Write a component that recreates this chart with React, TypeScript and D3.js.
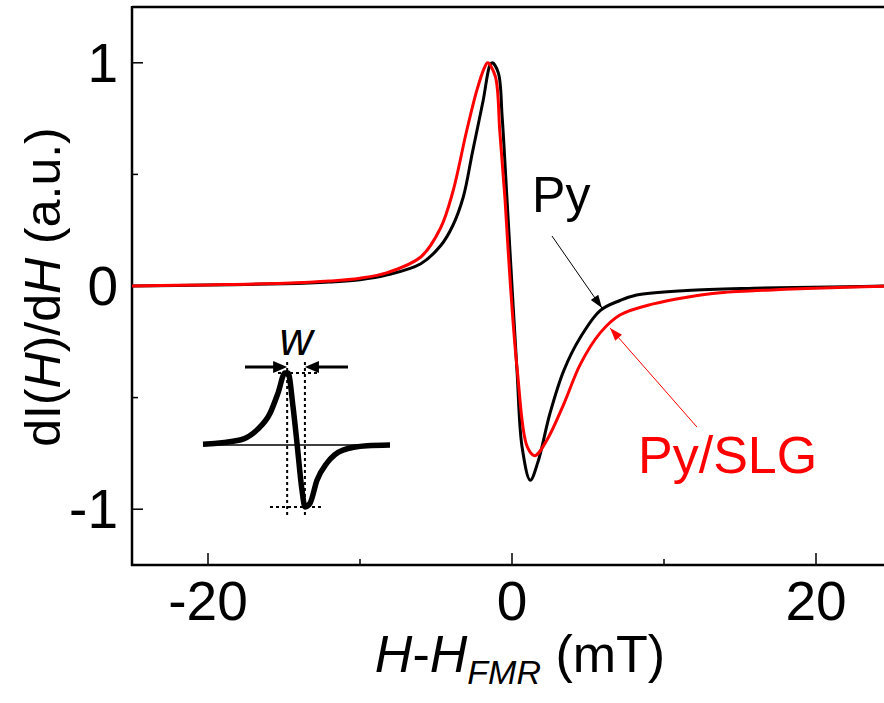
import React from "react";
import * as d3 from "d3";

// Py (black) curve: field offset (mT) and normalized derivative signal
const pyX = [-25, -20, -15, -12, -10, -8.2, -6, -4.7, -3.9, -3.2, -2.6, -1.9, -1.45, -1.3, -0.9, -0.65, -0.33, 0.0, 0.33, 0.66, 1.2, 1.7, 2.5, 3.4, 4.5, 5.8, 7.1, 8.2, 11.5, 15.9, 22, 25];
const pyY = [0, 0.004, 0.01, 0.018, 0.028, 0.05, 0.10, 0.18, 0.27, 0.40, 0.60, 0.83, 0.99, 1.0, 0.955, 0.76, 0.39, 0.0, -0.38, -0.72, -0.87, -0.79, -0.57, -0.38, -0.23, -0.11, -0.065, -0.04, -0.02, -0.01, -0.003, 0];

// Py/SLG (red) curve
const slgX = [-25, -20, -15, -12, -10, -8.2, -6, -4.7, -3.9, -3.0, -2.3, -1.8, -1.6, -1.1, -0.8, -0.46, -0.1, 0.35, 1.0, 1.5, 2.3, 3.4, 4.5, 5.8, 7.1, 9.3, 11.5, 13.7, 18, 22, 25];
const slgY = [0, 0.005, 0.012, 0.022, 0.035, 0.06, 0.13, 0.26, 0.42, 0.69, 0.88, 0.98, 1.0, 0.94, 0.69, 0.39, 0.0, -0.38, -0.72, -0.76, -0.69, -0.53, -0.35, -0.21, -0.13, -0.08, -0.05, -0.03, -0.015, -0.006, 0];

// Inset schematic curve (arbitrary units)
const insetX = [-10, -6.04, -4.22, -2.83, -1.98, -1.23, -0.91, -0.37, 0.05, 0.59, 0.91, 1.44, 2.19, 3.26, 4.97, 7.54, 10];
const insetY = [0.01, 0.07, 0.21, 0.44, 0.72, 1.0, 1.0, 0.53, 0.03, -0.63, -0.86, -0.81, -0.49, -0.25, -0.07, -0.01, 0];

const xMajorTicks = [-20, 0, 20];
const xMinorTicks = [-10, 10];
const yMajorTicks = [-1, 0, 1];
const yMinorTicks = [-0.5, 0.5];
const xTickLabels = ["-20", "0", "20"];
const yTickLabels = ["-1", "0", "1"];

const FONT = "'Liberation Sans', Arial, Helvetica, sans-serif";

export default function App() {
  const left = 132, top = 7, bottom = 565;
  const x = d3.scaleLinear().domain([-25, 25]).range([132, 892]);
  const y = d3.scaleLinear().domain([-1.25, 1.25]).range([bottom, top]);

  const line = d3
    .line<[number, number]>()
    .x((d) => x(d[0]))
    .y((d) => y(d[1]))
    .curve(d3.curveCatmullRom.alpha(0.5));

  const pyPts = pyX.map((v, i) => [v, pyY[i]] as [number, number]);
  const slgPts = slgX.map((v, i) => [v, slgY[i]] as [number, number]);

  // inset scales
  const ix = d3.scaleLinear().domain([-10, 10]).range([203, 390]);
  const iy = d3.scaleLinear().domain([0, 1]).range([445, 373]);
  const iline = d3
    .line<[number, number]>()
    .x((d) => ix(d[0]))
    .y((d) => iy(d[1]))
    .curve(d3.curveMonotoneX);
  const insetPts = insetX.map((v, i) => [v, insetY[i]] as [number, number]);

  const arrowHead = (x1: number, y1: number, x2: number, y2: number, len: number, w: number) => {
    const a = Math.atan2(y2 - y1, x2 - x1);
    const bx = x2 - len * Math.cos(a);
    const by = y2 - len * Math.sin(a);
    const px = -Math.sin(a) * w / 2;
    const py = Math.cos(a) * w / 2;
    return `${x2},${y2} ${bx + px},${by + py} ${bx - px},${by - py}`;
  };

  // annotation arrows in data coordinates
  const bA = { x1: x(2.63), y1: y(0.224), x2: x(5.92), y2: y(-0.099) };
  const rA = { x1: x(12.17), y1: y(-0.632), x2: x(6.45), y2: y(-0.188) };

  // inset arrows
  const wy = 367;
  const pkX = ix(-1.0);
  const mnX = ix(0.9);

  return (
    <svg width={884} height={703} style={{ position: "absolute", left: 0, top: 0, background: "#fff" }} fontFamily={FONT}>
      <rect x={0} y={0} width={884} height={703} fill="#fff" />
      {/* frame */}
      <line x1={left} y1={top} x2={892} y2={top} stroke="#000" strokeWidth={2.5} />
      <line x1={left} y1={top - 1} x2={left} y2={bottom + 1} stroke="#000" strokeWidth={2.5} />
      <line x1={left - 1} y1={bottom} x2={892} y2={bottom} stroke="#000" strokeWidth={2.5} />

      {/* x ticks */}
      {xMajorTicks.map((t, i) => (
        <g key={"xt" + t}>
          <line x1={x(t)} x2={x(t)} y1={bottom} y2={bottom - 12} stroke="#000" strokeWidth={1.5} />
          <text x={x(t)} y={620} fontSize={55} textAnchor="middle" fill="#000">{xTickLabels[i]}</text>
        </g>
      ))}
      {xMinorTicks.map((t) => (
        <line key={"xm" + t} x1={x(t)} x2={x(t)} y1={bottom} y2={bottom - 6} stroke="#000" strokeWidth={1.5} />
      ))}
      {/* y ticks */}
      {yMajorTicks.map((t, i) => (
        <g key={"yt" + t}>
          <line x1={left} x2={left + 11} y1={y(t)} y2={y(t)} stroke="#000" strokeWidth={1.5} />
          <text x={118} y={y(t) + 19} fontSize={55} textAnchor="end" fill="#000">{yTickLabels[i]}</text>
        </g>
      ))}
      {yMinorTicks.map((t) => (
        <line key={"ym" + t} x1={left} x2={left + 6} y1={y(t)} y2={y(t)} stroke="#000" strokeWidth={1.5} />
      ))}

      {/* curves */}
      <path d={line(pyPts) || ""} fill="none" stroke="#000" strokeWidth={3} strokeLinejoin="round" />
      <path d={line(slgPts) || ""} fill="none" stroke="#ff0000" strokeWidth={3} strokeLinejoin="round" />

      {/* annotations */}
      <text x={x(1.32)} y={y(0.33)} fontSize={50} fill="#000">Py</text>
      <line x1={bA.x1} y1={bA.y1} x2={bA.x2} y2={bA.y2} stroke="#000" strokeWidth={1} />
      <polygon points={arrowHead(bA.x1, bA.y1, bA.x2, bA.y2, 13, 9)} fill="#000" />
      <text x={x(8.29)} y={y(-0.84)} fontSize={52} fill="#ff0000">Py/SLG</text>
      <line x1={rA.x1} y1={rA.y1} x2={rA.x2} y2={rA.y2} stroke="#ff0000" strokeWidth={1} />
      <polygon points={arrowHead(rA.x1, rA.y1, rA.x2, rA.y2, 13, 9)} fill="#ff0000" />

      {/* inset */}
      <line x1={ix(-10)} x2={ix(10)} y1={iy(0)} y2={iy(0)} stroke="#000" strokeWidth={1.5} />
      <line x1={pkX} x2={pkX} y1={362} y2={518} stroke="#000" strokeWidth={2} strokeDasharray="3,3" />
      <line x1={mnX} x2={mnX} y1={362} y2={518} stroke="#000" strokeWidth={2} strokeDasharray="3,3" />
      <line x1={278} x2={318} y1={iy(1)} y2={iy(1)} stroke="#000" strokeWidth={2} strokeDasharray="3,3" />
      <line x1={270} x2={323} y1={iy(-0.86)} y2={iy(-0.86)} stroke="#000" strokeWidth={2} strokeDasharray="3,3" />
      <path d={iline(insetPts) || ""} fill="none" stroke="#000" strokeWidth={5.5} strokeLinejoin="round" />
      <line x1={245} x2={pkX - 10} y1={wy} y2={wy} stroke="#000" strokeWidth={3} />
      <polygon points={arrowHead(245, wy, pkX, wy, 14, 12)} fill="#000" />
      <line x1={348} x2={mnX + 10} y1={wy} y2={wy} stroke="#000" strokeWidth={3} />
      <polygon points={arrowHead(348, wy, mnX, wy, 14, 12)} fill="#000" />
      <text x={296} y={355} fontSize={46} fontStyle="italic" textAnchor="middle" fill="#000">w</text>

      {/* axis titles */}
      <text x={520} y={672} fontSize={52} textAnchor="middle" fill="#000">
        <tspan fontStyle="italic">H</tspan>
        <tspan>-</tspan>
        <tspan fontStyle="italic">H</tspan>
        <tspan fontStyle="italic" fontSize={34} dy={12}>FMR</tspan>
        <tspan dy={-12}> (mT)</tspan>
      </text>
      <text transform="translate(60,287) rotate(-90)" fontSize={50} textAnchor="middle" fill="#000">
        <tspan>dI(</tspan>
        <tspan fontStyle="italic">H</tspan>
        <tspan>)/d</tspan>
        <tspan fontStyle="italic">H</tspan>
        <tspan> (a.u.)</tspan>
      </text>
    </svg>
  );
}
